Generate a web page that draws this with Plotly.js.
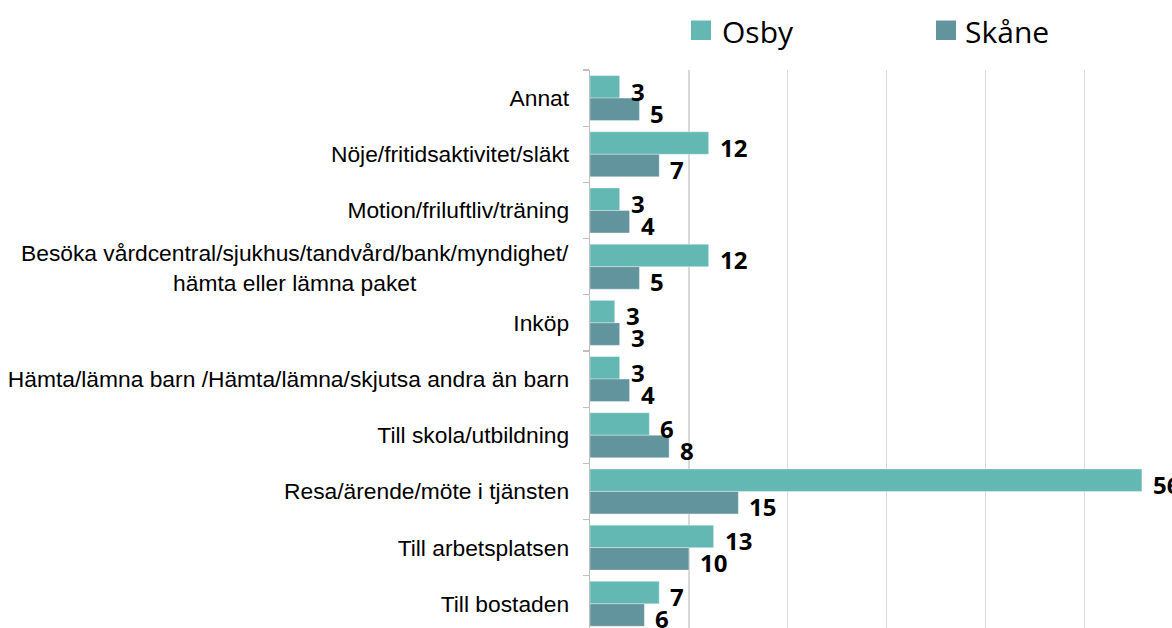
<!DOCTYPE html>
<html>
<head>
<meta charset="utf-8">
<script src="https://cdn.plot.ly/plotly-3.0.1.min.js"></script>
<style>html,body{margin:0;padding:0;background:#fff;}#chart{width:1172px;height:628px;}</style>
</head>
<body>
<div id="chart"></div>
<script>
// Categories top to bottom
const categories = [
  'Annat',
  'Nöje/fritidsaktivitet/släkt',
  'Motion/friluftliv/träning',
  'Besöka vårdcentral/sjukhus/tandvård/bank/myndighet/<br>hämta eller lämna paket',
  'Inköp',
  'Hämta/lämna barn /Hämta/lämna/skjutsa andra än barn',
  'Till skola/utbildning',
  'Resa/ärende/möte i tjänsten',
  'Till arbetsplatsen',
  'Till bostaden'
];
const seriesNames = ['Osby', 'Skåne'];
const osbyValues  = [3, 12, 3, 12, 2.5, 3, 6, 55.8, 12.5, 7];
const skaneValues = [5, 7, 4, 5, 3, 4, 8, 15, 10, 5.5];

const colors = ['#63b8b4', '#62949d'];

const ML = 590, MT = 70, W = 1172, H = 628;
const PW = W - ML, PH = H - MT;
const xf = px => (px - ML) / PW;
const yf = py => 1 - (py - MT) / PH;
const pxPerUnit = 98.9 / 10;
const xMax = PW / pxPerUnit;

const traces = [osbyValues, skaneValues].map((vals, i) => ({
  type: 'bar',
  orientation: 'h',
  name: seriesNames[i],
  x: vals,
  y: categories,
  marker: {color: colors[i], line: {color: 'rgba(255,255,255,0.35)', width: 1}},
  showlegend: false,
  hoverinfo: 'x+y'
}));

const tickFont = {family: 'Liberation Sans, Arial, sans-serif', size: 22.8, color: '#000000'};
const annotations = [];

// Multi-line category labels are centred (as in the reference), drawn as annotations
const tickText = categories.map(c => c.includes('<br>') ? '' : c);
categories.forEach(c => {
  if (c.includes('<br>')) {
    annotations.push({xref: 'paper', yref: 'y', x: xf(571), y: c, yshift: -1,
      xanchor: 'right', yanchor: 'middle', align: 'center', showarrow: false,
      text: c, font: tickFont});
  }
});

const fontLabel = {family: 'Open Sans, sans-serif', size: 24, color: '#000000', weight: 'bold'};
[osbyValues, skaneValues].forEach((vals, i) => {
  vals.forEach((v, j) => {
    annotations.push({
      x: v, y: categories[j], xref: 'x', yref: 'y',
      text: '<b>' + Math.round(v) + '</b>',
      showarrow: false, xanchor: 'left', yanchor: 'middle',
      xshift: 9, yshift: i === 0 ? 7 : -15,
      font: fontLabel
    });
  });
});

// Legend (drawn)
const legendItems = [
  {name: seriesNames[0], color: colors[0], sq: 691, tx: 720},
  {name: seriesNames[1], color: colors[1], sq: 936, tx: 963}
];
const shapes = [];
legendItems.forEach(it => {
  shapes.push({type: 'rect', xref: 'paper', yref: 'paper',
    x0: xf(it.sq), x1: xf(it.sq + 20), y0: yf(40), y1: yf(20.5),
    fillcolor: it.color, line: {width: 0}});
  annotations.push({xref: 'paper', yref: 'paper', x: xf(it.tx), y: yf(31),
    xanchor: 'left', yanchor: 'middle', showarrow: false, text: it.name,
    font: {family: 'Open Sans, sans-serif', size: 30, color: '#000000'}});
});

const layout = {
  width: W, height: H,
  margin: {l: ML, r: 0, t: MT, b: 0, pad: 0},
  paper_bgcolor: '#ffffff', plot_bgcolor: '#ffffff',
  barmode: 'group', bargap: 0.2, bargroupgap: 0,
  showlegend: false,
  xaxis: {
    range: [0, xMax], dtick: 10, tick0: 0,
    showgrid: true, gridcolor: '#d9d9d9', gridwidth: 1.3,
    zeroline: false, showline: false, showticklabels: false, ticks: ''
  },
  yaxis: {
    type: 'category', range: [9.43, -0.5],
    tickmode: 'array', tickvals: categories, ticktext: tickText,
    showline: true, linecolor: '#bfbfbf', linewidth: 1.3,
    ticks: 'outside', tickson: 'boundaries', ticklen: 6, tickcolor: '#bfbfbf', tickwidth: 1.3,
    ticklabelstandoff: 15,
    showgrid: false, zeroline: false,
    tickfont: tickFont
  },
  annotations: annotations,
  shapes: shapes
};

Plotly.newPlot('chart', traces, layout, {displayModeBar: false, staticPlot: true});
</script>
</body>
</html>
